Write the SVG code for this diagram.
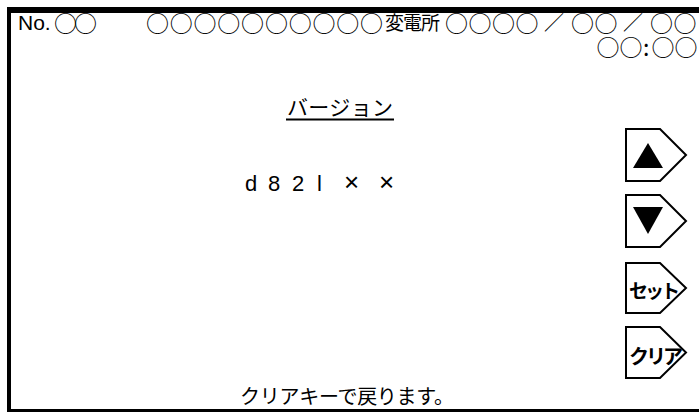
<svg xmlns="http://www.w3.org/2000/svg" width="699" height="412" viewBox="0 0 699 412">
<style>
.t{font-family:"Noto Sans CJK JP","Liberation Sans",sans-serif;fill:#000}
.c{font-family:"Noto Sans CJK JP",sans-serif;fill:#000;font-size:23px}
.l{font-family:"Liberation Sans","Noto Sans CJK JP",sans-serif;fill:#000}
.btn{fill:#fff;stroke:#000;stroke-width:2;stroke-linejoin:miter}
.bt{font-family:"Noto Sans CJK JP",sans-serif;font-weight:bold;fill:#000}
.s{font-size:20px}
</style>
<rect width="699" height="412" fill="#fff"/>
<g id="frame">
<path d="M7 7 H699 V13 H11 V409 H699 V412 H7 Z" fill="#000"/>
</g>
<g id="header">
<text class="l" x="18" y="30" font-size="21">No.</text>
<text class="c" x="54" y="32" textLength="43">○○</text>
<text class="c" x="146" y="32" textLength="237">○○○○○○○○○○</text>
<text class="t" x="385" y="30" font-size="19" textLength="55">変電所</text>
<text class="c" y="32" x="445 468.5 492 515.5 544 571 594.5 623 650 673.5">○○○○<tspan class="s" dy="-2">／</tspan><tspan dy="2">○○</tspan><tspan class="s" dy="-2">／</tspan><tspan dy="2">○○</tspan></text>
<text class="c" y="56" x="596.5 619.5 643 651.5 674.5">○○:○○</text>
</g>
<g id="title">
<text class="t" x="287" y="115" font-size="21" textLength="106">バージョン</text>
<line x1="286" y1="119.5" x2="394" y2="119.5" stroke="#000" stroke-width="2"/>
</g>
<g id="version">
<text class="l" y="191" font-size="22" xml:space="preserve" x="245 257 268 280 292 304 317 322 344 360 379">d 8 2 l <tspan font-size="26">×</tspan> <tspan font-size="26">×</tspan></text>
</g>
<g id="btn-up">
<polygon class="btn" points="626,129 660,129 686,155 660,181 626,181"/>
<polygon points="648,143 633,168 663,168" fill="#000"/>
</g>
<g id="btn-down">
<polygon class="btn" points="626,195 660,195 686,221 660,247 626,247"/>
<polygon points="633,207 663,207 648,234" fill="#000"/>
</g>
<g id="btn-set">
<polygon class="btn" points="626,263 660,263 686,288 660,313 626,313"/>
<text class="bt" x="629" y="298" font-size="19" textLength="51">セット</text>
</g>
<g id="btn-clear">
<polygon class="btn" points="626,327 660,327 686,352.5 660,378 626,378"/>
<text class="bt" x="629" y="364" font-size="20" textLength="54">クリア</text>
</g>
<g id="footer">
<text class="t" x="240" y="404" font-size="20" textLength="214">クリアキーで戻ります。</text>
</g>
<g id="connectors"/>
</svg>
